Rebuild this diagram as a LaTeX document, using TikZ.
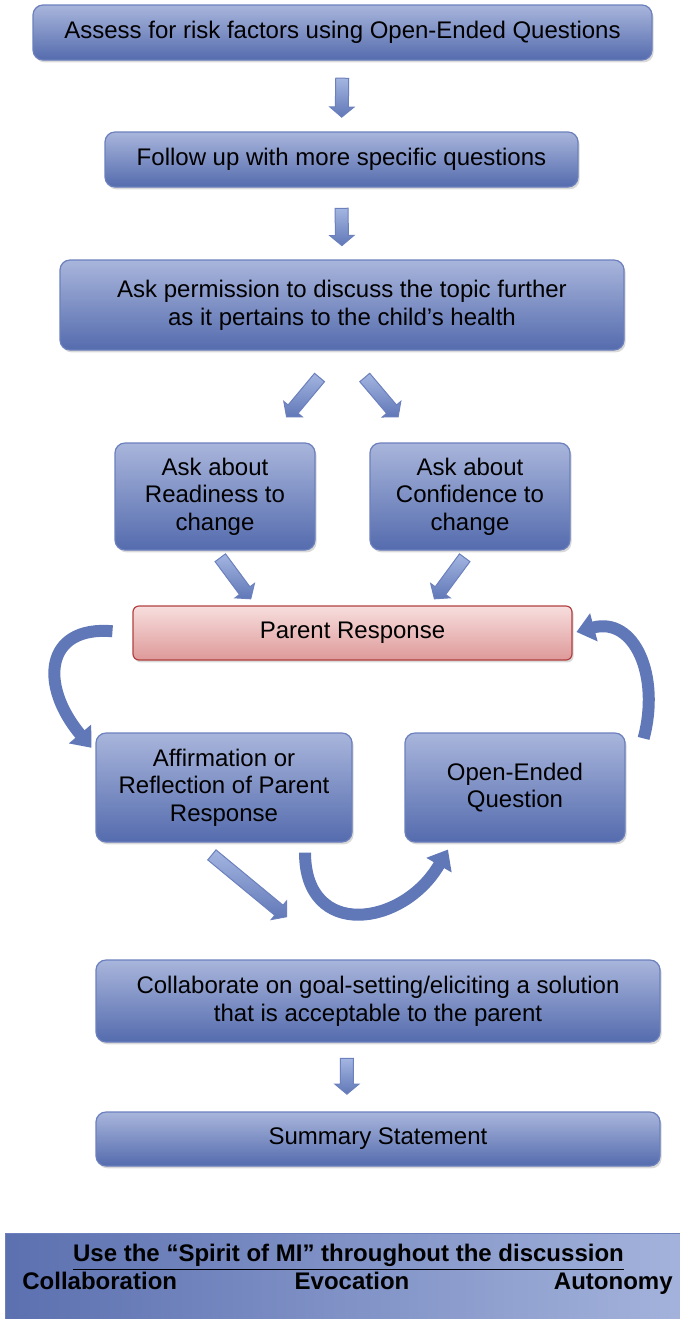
\documentclass[tikz,border=0pt]{standalone}
\usepackage{fontspec}
\setmainfont{Liberation Sans}
\usetikzlibrary{calc,shapes.arrows,arrows.meta,shadows}
\definecolor{boxtop}{rgb}{0.66,0.71,0.86}
\definecolor{boxbot}{rgb}{0.33,0.42,0.68}
\definecolor{boxline}{rgb}{0.42,0.50,0.74}
\definecolor{pinktop}{rgb}{0.97,0.87,0.87}
\definecolor{pinkbot}{rgb}{0.87,0.60,0.60}
\definecolor{pinkline}{rgb}{0.70,0.25,0.25}
\definecolor{arrowblue}{rgb}{0.38,0.47,0.72}
\definecolor{arrowlite}{rgb}{0.64,0.71,0.88}
\definecolor{bandleft}{rgb}{0.36,0.44,0.69}
\definecolor{bandright}{rgb}{0.64,0.70,0.86}

% block arrow between two points, drawn from fraction #4 to fraction #5
\newcommand{\blockarrow}[5]{%
  \path let \p1=($(#2)!#4!(#3)$), \p2=($(#2)!#5!(#3)$),
    \n1={atan2(\y2-\y1,\x2-\x1)}, \n2={veclen(\x2-\x1,\y2-\y1)}
  in node[barrow, rotate=\n1, minimum height=\n2] (#1) at ($(\p1)!.5!(\p2)$) {};}

\begin{document}
\begin{tikzpicture}[x=0.5pt,y=0.5pt,
	box/.style={rounded corners=5pt, top color=boxtop, bottom color=boxbot, draw=boxline, line width=0.6pt,
		drop shadow={opacity=0.3,shadow xshift=0.8pt,shadow yshift=-1.2pt},
		align=center, inner sep=2pt, font=\fontsize{12}{13.8}\selectfont},
	pinkbox/.style={box, rounded corners=3pt, top color=pinktop, bottom color=pinkbot, draw=pinkline},
	barrow/.style={single arrow, inner xsep=0pt, inner ysep=3pt, single arrow head extend=2.8pt,
		single arrow tip angle=100, top color=arrowlite, bottom color=arrowblue, draw=boxline, line width=0.5pt},
	curvarrow/.style={draw=arrowblue, line width=6pt, -{Triangle[width=14pt,length=9pt]}},
	spiritword/.style={font=\bfseries\fontsize{12}{13.8}\selectfont, inner sep=0pt, text height=9pt, text depth=2.5pt}]
	\useasboundingbox (0,0) rectangle (680,-1319);

	% boxes
	\node[box, minimum width=309.5pt, minimum height=27.5pt] (assess) at (342.5,-32.5) {Assess for risk factors using Open-Ended Questions};
	\node[box, minimum width=236.5pt, minimum height=27.5pt] (follow) at (341.5,-159.5) {Follow up with more specific questions};
	\node[box, minimum width=282pt, minimum height=45pt] (permit) at (342,-305) {Ask permission to discuss the topic further\\as it pertains to the child’s health};
	\node[box, minimum width=100pt, minimum height=53.5pt] (ready) at (215,-496.5) {Ask about\\Readiness to\\change};
	\node[box, minimum width=100pt, minimum height=53.5pt] (confid) at (470,-496.5) {Ask about\\Confidence to\\change};
	\node[pinkbox, minimum width=219.5pt, minimum height=27pt] (parent) at (352.5,-633) {Parent Response};
	\node[box, minimum width=128pt, minimum height=54.5pt] (affirm) at (224,-787.5) {Affirmation or\\Reflection of Parent\\Response};
	\node[box, minimum width=110pt, minimum height=54.5pt] (openq) at (515,-787.5) {Open-Ended\\Question};
	\node[box, minimum width=282pt, minimum height=41pt] (collab) at (378,-1001) {Collaborate on goal-setting/eliciting a solution\\that is acceptable to the parent};
	\node[box, minimum width=282pt, minimum height=27pt] (summary) at (378,-1139) {Summary Statement};

	% spirit of MI band
	\node[rectangle, left color=bandleft, right color=bandright, draw=boxline, line width=0.5pt,
		minimum width=337.5pt, minimum height=43pt] (spirit) at (342.5,-1276) {};
	\node[spiritword] (spirithead) at (348.5,-1255) {\underline{Use the “Spirit of MI” throughout the discussion}};
	\node[spiritword, anchor=west] (collabword) at (22,-1283) {Collaboration};
	\node[spiritword] (evocword) at (352,-1283) {Evocation};
	\node[spiritword, anchor=east] (autoword) at (673,-1283) {Autonomy};

	% end points
	\coordinate (r1) at ($(ready.north)!.5!(ready.north east)$);
	\coordinate (r2) at ($(confid.north)!.5!(confid.north west)$);
	\coordinate (p1) at ($(parent.north west)!.56!(parent.north)$);
	\coordinate (p2) at ($(parent.north)!.35!(parent.north east)$);
	\coordinate (f1) at ($(affirm.south west)!.79!(affirm.south)$);
	\coordinate (f2) at ($(collab.north west)!.86!(collab.north)$);
	\coordinate (c1) at ($(collab.south west)!.89!(collab.south)$);
	\coordinate (c2) at ($(summary.north west)!.89!(summary.north)$);
	\coordinate (ustart) at ($(affirm.south)!.63!(affirm.south east)$);
	\coordinate (uend) at ($(openq.south west)!.43!(openq.south)$);

	% block arrows
	\blockarrow{a1}{assess.south}{follow.north}{.21}{.76}
	\blockarrow{a2}{follow.south}{permit.north}{.25}{.77}
	\blockarrow{a3}{permit.south}{r1}{.27}{.70}
	\blockarrow{a4}{permit.south}{r2}{.27}{.70}
	\blockarrow{a5}{ready.south}{p1}{.09}{.84}
	\blockarrow{a6}{confid.south}{p2}{.09}{.84}
	\blockarrow{a7}{f1}{f2}{.09}{.62}
	\blockarrow{a8}{c1}{c2}{.19}{.71}

	% curved arrows
	\draw[curvarrow, shorten <=10pt, shorten >=3pt] (parent.west) to[out=175, in=130, looseness=1.8] ([yshift=-10pt]affirm.north west);
	\draw[curvarrow, shorten >=2pt] ([xshift=9pt,yshift=-3pt]openq.north east) to[out=75, in=15, looseness=1.3] (parent.east);
	\draw[curvarrow, shorten <=5pt, shorten >=4pt] (ustart) to[out=-90, in=-120, looseness=1.7] (uend);

\end{tikzpicture}
\end{document}
